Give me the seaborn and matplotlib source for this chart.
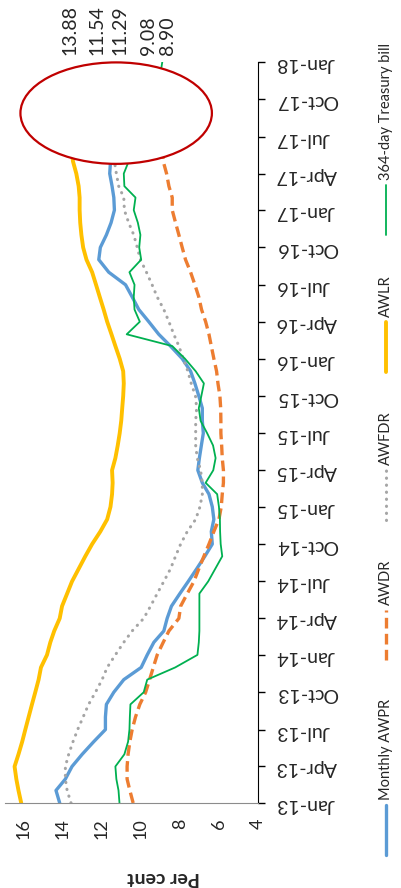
import matplotlib
matplotlib.use("Agg")
import matplotlib.dates as mdates
import matplotlib.pyplot as plt
import numpy as np
import pandas as pd
import seaborn as sns
from matplotlib.patches import Ellipse

# monthly values, Jan-13 .. Dec-17 (per cent); months hidden under the oval are estimates
awpr = [14.15, 14.34, 13.86, 13.52, 13.00, 12.41, 11.81, 11.81, 11.76, 11.38, 10.87, 9.98,
        9.67, 9.33, 8.82, 8.65, 8.43, 8.00, 7.57, 7.14, 6.72, 6.34, 6.39, 6.26,
        6.34, 6.51, 6.85, 7.08, 7.00, 6.90, 6.80, 6.85, 6.85, 7.03, 7.23, 7.45,
        7.88, 8.48, 9.08, 9.59, 10.10, 10.44, 10.78, 11.64, 12.15, 12.07, 11.76, 11.52,
        11.35, 11.38, 11.47, 11.59, 11.55, 11.58, 11.60, 11.60, 11.58, 11.57, 11.55, 11.54]
awdr = [10.39, 10.56, 10.70, 10.70, 10.65, 10.56, 10.44, 10.27, 10.05, 9.75, 9.55, 9.36,
        9.16, 8.85, 8.56, 8.05, 7.96, 7.62, 7.28, 7.03, 6.77, 6.51, 6.26, 6.00,
        5.88, 5.83, 5.77, 5.77, 5.83, 5.86, 5.90, 5.90, 5.91, 5.95, 6.05, 6.12,
        6.26, 6.39, 6.51, 6.68, 6.89, 7.03, 7.23, 7.45, 7.71, 7.88, 8.05, 8.22,
        8.39, 8.39, 8.56, 8.68, 8.85, 8.90, 8.95, 9.00, 9.02, 9.05, 9.07, 9.08]
awfdr = [13.57, 13.77, 13.86, 13.86, 13.69, 13.47, 13.23, 12.95, 12.67, 12.32, 11.98, 11.72,
         11.30, 10.87, 10.44, 9.85, 9.50, 9.16, 8.82, 8.48, 8.22, 7.96, 7.62, 7.19,
         6.97, 6.85, 6.85, 6.94, 7.11, 7.19, 7.19, 7.19, 7.14, 7.20, 7.42, 7.59,
         7.83, 8.05, 8.31, 8.56, 8.82, 9.16, 9.42, 9.71, 10.02, 10.18, 10.36, 10.62,
         10.84, 10.87, 11.13, 11.25, 11.35, 11.35, 11.33, 11.32, 11.30, 11.30, 11.29, 11.29]
awlr = [16.12, 16.26, 16.37, 16.46, 16.26, 16.07, 15.91, 15.74, 15.57, 15.40, 15.23, 15.11,
        14.80, 14.63, 14.43, 14.15, 14.03, 13.77, 13.52, 13.18, 12.84, 12.49, 12.07, 11.72,
        11.55, 11.47, 11.44, 11.47, 11.30, 11.18, 11.08, 11.00, 10.95, 10.90, 10.87, 10.90,
        11.08, 11.30, 11.50, 11.72, 11.90, 12.10, 12.29, 12.49, 12.78, 12.95, 13.04, 13.10,
        13.13, 13.13, 13.18, 13.30, 13.47, 13.55, 13.62, 13.70, 13.75, 13.80, 13.85, 13.88]
# treasury bill runs one month further, to Jan-18
tbill = [11.09, 11.14, 11.25, 11.30, 10.84, 10.65, 10.58, 10.56, 10.53, 9.85, 9.67, 8.24,
         7.10, 7.03, 7.00, 7.00, 7.00, 7.00, 6.55, 6.19, 5.83, 5.91, 5.94, 5.95,
         6.00, 6.09, 6.68, 6.29, 6.17, 6.30, 6.60, 6.94, 7.03, 6.90, 6.77, 7.19,
         7.74, 8.39, 10.72, 10.05, 10.32, 10.36, 10.32, 10.58, 9.98, 10.08, 10.02, 10.15,
         10.36, 10.27, 10.84, 10.87, 10.62, 10.40, 10.20, 10.00, 9.80, 9.50, 9.20, 9.00,
         8.90]

latest_labels = ["13.88", "11.54", "11.29", "9.08", "8.90"]
label_pos = [13.6, 12.22, 11.09, 9.61, 8.64]  # where the labels sit on the per cent axis

months = pd.date_range("2013-01-01", periods=len(awpr), freq="MS")
tbill_months = pd.date_range("2013-01-01", periods=len(tbill), freq="MS")

series = [
    ("Monthly AWPR", awpr, months, dict(color="#5B9BD5", lw=2.4)),
    ("AWDR", awdr, months, dict(color="#ED7D31", lw=2.4, dashes=(3.2, 1.6))),
    ("AWFDR", awfdr, months, dict(color="#A5A5A5", lw=2.2, dashes=(0.1, 2.2),
                                  dash_capstyle="round")),
    ("AWLR", awlr, months, dict(color="#FFC000", lw=2.8)),
    ("364-day Treasury bill", tbill, tbill_months, dict(color="#00B050", lw=1.3)),
]

sns.set_style("white")
plt.rcParams["font.family"] = ["Lato", "DejaVu Sans"]

fig = plt.figure(figsize=(4.01, 8.88), dpi=100)
ax = fig.add_axes([5 / 401, 85 / 888, 253 / 401, 741 / 888])

for name, vals, dates, style in series:
    df = pd.DataFrame({"rate": vals, "month": dates})
    sns.lineplot(data=df, x="rate", y="month", orient="y", sort=False,
                 estimator=None, ax=ax, **style)

ax.set_xlim(16.95, 4)
ax.set_ylim(pd.Timestamp("2013-01-01"), pd.Timestamp("2018-01-01"))
ax.set_xticks(np.arange(4, 17, 2))
ax.yaxis.set_major_locator(mdates.MonthLocator(bymonth=[1, 4, 7, 10]))
ax.yaxis.set_major_formatter(mdates.DateFormatter("%b-%y"))
ax.yaxis.tick_right()
ax.tick_params(axis="y", direction="out", length=5, width=1, color="black",
               pad=8, labelsize=14, labelrotation=180)
ax.tick_params(axis="x", direction="out", length=5, width=1, color="#7f7f7f",
               pad=6, labelsize=13, labelrotation=90)
ax.set_ylabel("")
ax.set_xlabel("Per cent", fontweight="bold", fontsize=14, rotation=180)
ax.xaxis.label.set_va("center")
ax.xaxis.set_label_coords(0.625, -0.1)
for side in ["left", "top"]:
    ax.spines[side].set_visible(False)
ax.spines["right"].set_color("black")
ax.spines["bottom"].set_color("#8c8c8c")

# oval covering the latest months
oval = Ellipse((11.26, mdates.date2num(pd.Timestamp("2017-08-28"))), width=9.8,
               height=250, facecolor="white", edgecolor="#C00000", lw=1.6,
               zorder=10, clip_on=False)
ax.add_patch(oval)

for txt, pos in zip(latest_labels, label_pos):
    ax.annotate(txt, xy=(pos, 1.0), xycoords=ax.get_xaxis_transform(),
                xytext=(0, 5), textcoords="offset points", rotation=90,
                ha="center", va="bottom", fontsize=14)

# legend laid out vertically along the right edge
lax = fig.add_axes([0, 0, 1, 1], facecolor="none")
lax.set_xlim(0, 401)
lax.set_ylim(888, 0)
lax.axis("off")
leg_start = [855, 660, 520, 372, 235]
for (name, vals, dates, style), y0 in zip(series, leg_start):
    lax.plot([386, 386], [y0, y0 - 50], **style)
    lax.text(386, y0 - 55, name, rotation=90, ha="center", va="bottom",
             fontsize=10.5)

fig.savefig("out.png", dpi=100)
